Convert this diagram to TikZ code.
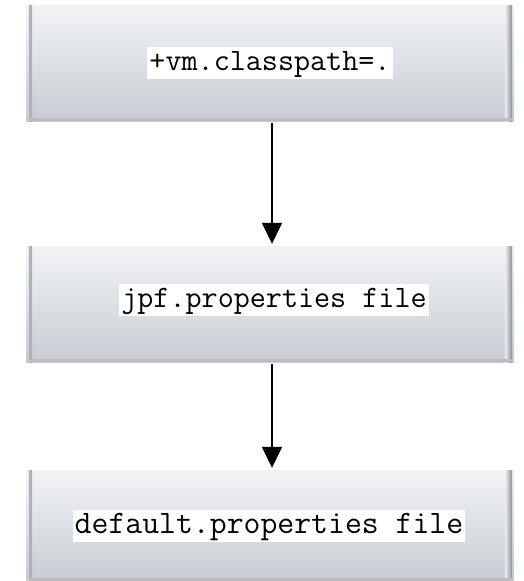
\documentclass[tikz,border=0pt]{standalone}
\usetikzlibrary{arrows.meta,calc}
\definecolor{paneltop}{HTML}{F1F3F6}
\definecolor{panelbot}{HTML}{C8CCD2}
\definecolor{paneledge}{HTML}{8C9096}
\tikzset{
  panel/.style={draw=none, minimum width=488pt, minimum height=116pt,
    inner sep=0pt, top color=paneltop, bottom color=panelbot,
    path picture={
      \fill[left color=paneledge!70!white, right color=paneledge]
        ([xshift=3pt]path picture bounding box.south west) rectangle
        ([xshift=6pt]path picture bounding box.north west);
      \fill[left color=white!85!paneledge, right color=paneledge]
        ([xshift=-9pt]path picture bounding box.south east) rectangle
        ([xshift=-2pt]path picture bounding box.north east);
      \fill[paneledge!60!white]
        ([xshift=3pt]path picture bounding box.south west) rectangle
        ([xshift=-2pt,yshift=3pt]path picture bounding box.south east);
    }},
  label/.style={fill=white, font=\ttfamily\fontsize{31.2}{34}\selectfont,
    inner xsep=2pt, inner ysep=2pt, text height=21pt, text depth=7pt},
  arr/.style={-{Triangle[width=20pt,length=21pt]}, line width=1.6pt, black}
}
\begin{document}
\begin{tikzpicture}[x=1pt,y=-1pt]
  \useasboundingbox (0,0) rectangle (524,581);
  \fill[white] (0,0) rectangle (524,581);
  % three stacked panels
  \node[panel] (b1) at (270,63) {};
  \node[panel] (b2) at (270,304) {};
  \node[panel, minimum height=111pt] (b3) at (270,525.5) {};
  % labels
  \node[label] (t1) at (270,63) {+vm.classpath=.};
  \node[label] (t2) at (274,300) {jpf.properties file};
  \node[label, font=\ttfamily\fontsize{32.8}{36}\selectfont] (t3) at (269,526) {default.properties file};
  % connectors
  \coordinate (ax) at (272,0);
  \draw[arr, shorten <=2pt, shorten >=2pt] (b1.south -| ax) -- (b2.north -| ax);
  \draw[arr, shorten <=2pt, shorten >=2pt] (b2.south -| ax) -- (b3.north -| ax);
\end{tikzpicture}
\end{document}
